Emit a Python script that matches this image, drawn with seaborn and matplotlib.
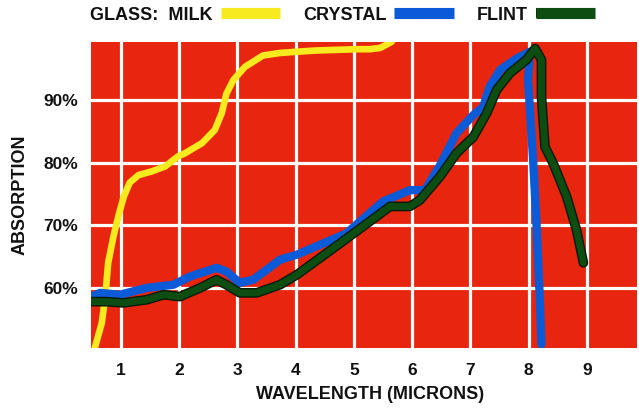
import matplotlib
matplotlib.use("Agg")
import matplotlib.pyplot as plt
import matplotlib.patheffects as pe
import seaborn as sns
import pandas as pd

# ---- data ----
milk_x = [0.55, 0.67, 0.73, 0.78, 0.87, 0.97, 1.05, 1.15, 1.30, 1.53, 1.76, 1.98, 2.10,
          2.39, 2.61, 2.73, 2.81, 2.93, 3.13, 3.44, 3.73, 4.02, 4.36, 4.70, 5.05, 5.27,
          5.45, 5.65]
milk_y = [50.4, 54.4, 58.6, 64.0, 68.2, 72.0, 74.6, 76.8, 78.0, 78.6, 79.4, 81.0, 81.5,
          83.1, 85.2, 87.9, 91.0, 93.2, 95.3, 97.1, 97.5, 97.7, 97.9, 98.0, 98.1, 98.1,
          98.3, 99.3]

crystal_x = [0.50, 0.64, 0.98, 1.44, 1.90, 2.18, 2.64, 2.81, 3.04, 3.27, 3.73, 4.02, 4.87,
             5.50, 5.96, 6.22, 6.48, 6.76, 7.05, 7.22, 7.33, 7.51, 7.79, 8.02, 7.99,
             8.08, 8.14, 8.19, 8.22]
crystal_y = [58.6, 59.2, 58.9, 60.0, 60.5, 61.8, 63.2, 62.6, 60.8, 61.3, 64.5, 65.3, 68.7,
             73.8, 75.6, 75.6, 79.6, 84.7, 87.6, 88.9, 92.1, 94.8, 96.6, 97.7, 93.2,
             79.9, 69.3, 58.6, 51.0]

flint_x = [0.50, 0.75, 1.04, 1.44, 1.73, 2.01, 2.36, 2.64, 2.81, 3.04, 3.33, 3.73, 4.02,
           4.76, 5.62, 5.96, 6.13, 6.48, 6.76, 7.05, 7.28, 7.45, 7.68, 7.96, 8.11, 8.22,
           8.22, 8.28, 8.42, 8.65, 8.82, 8.94]
flint_y = [57.8, 57.8, 57.6, 58.1, 58.9, 58.6, 60.0, 61.3, 60.5, 59.2, 59.2, 60.5, 62.1,
           67.1, 73.0, 73.0, 74.0, 77.8, 81.5, 84.1, 87.9, 91.6, 94.3, 96.4, 98.2, 96.4,
           90.5, 82.5, 79.9, 74.6, 69.3, 64.0]

x_ticks = [1, 2, 3, 4, 5, 6, 7, 8, 9]
y_ticks = [60, 70, 80, 90]
y_tick_labels = ["60%", "70%", "80%", "90%"]
labels = ["GLASS:  MILK", "CRYSTAL", "FLINT"]

# ---- style ----
sns.set_theme(style="white")
plt.rcParams["font.family"] = ["Liberation Sans", "DejaVu Sans"]
plt.rcParams["font.weight"] = "bold"

fig = plt.figure(figsize=(6.39, 4.11), dpi=100)
fig.patch.set_facecolor("white")
ax = fig.add_axes([91 / 639, 1 - 348 / 411, 546 / 639, (348 - 41.7) / 411])
ax.set_facecolor("#e8250e")

df_m = pd.DataFrame({"x": milk_x, "y": milk_y})
df_c = pd.DataFrame({"x": crystal_x, "y": crystal_y})
df_f = pd.DataFrame({"x": flint_x, "y": flint_y})

common = dict(sort=False, estimator=None, ax=ax, solid_capstyle="round",
              solid_joinstyle="round")
sns.lineplot(data=df_m, x="x", y="y", color="#f7ea1e", lw=4.8, label=labels[0],
             zorder=3, **common)
sns.lineplot(data=df_c, x="x", y="y", color="#0b5ad8", lw=6.0, label=labels[1],
             zorder=4, **common)
sns.lineplot(data=df_f, x="x", y="y", color="#0d4d12", lw=5.0, label=labels[2],
             zorder=5, path_effects=[pe.Stroke(linewidth=7.0, foreground="#061a06"),
                                     pe.Normal()], **common)

ax.set_xlim(0.485, 9.86)
ax.set_ylim(50.4, 99.3)
ax.set_xticks(x_ticks)
ax.set_yticks(y_ticks)
ax.set_yticklabels(y_tick_labels)
ax.grid(True, color="white", lw=2.3)
ax.set_axisbelow(True)
for s in ax.spines.values():
    s.set_visible(False)
ax.tick_params(axis="both", length=0, labelsize=12.5, colors="#111111")
ax.tick_params(axis="x", pad=11)
ax.tick_params(axis="y", pad=9)
for t in ax.get_xticklabels() + ax.get_yticklabels():
    t.set_fontweight("bold")

ax.set_xlabel("WAVELENGTH (MICRONS)", fontsize=13, fontweight="bold", color="#111111")
ax.set_ylabel("ABSORPTION", fontsize=13, fontweight="bold", color="#111111")
ax.xaxis.set_label_coords(0.511, -0.153)
ax.xaxis.label.set_va("center")
ax.yaxis.set_label_coords(-0.130, 0.50)
ax.yaxis.label.set_va("center")

ax.get_legend().remove()
handles, labs = ax.get_legend_handles_labels()
leg = fig.legend(handles, labs, loc="center left", bbox_to_anchor=(90 / 639, 1 - 15 / 411),
                 ncol=3, markerfirst=False, frameon=False, fontsize=13,
                 handlelength=3.3, handletextpad=0.45, columnspacing=1.25, borderpad=0,
                 borderaxespad=0)
for t in leg.get_texts():
    t.set_fontweight("bold")
    t.set_color("#111111")
for h in leg.legend_handles:
    h.set_linewidth(8)
    h.set_solid_capstyle("butt")

fig.savefig("out.png", dpi=100)
